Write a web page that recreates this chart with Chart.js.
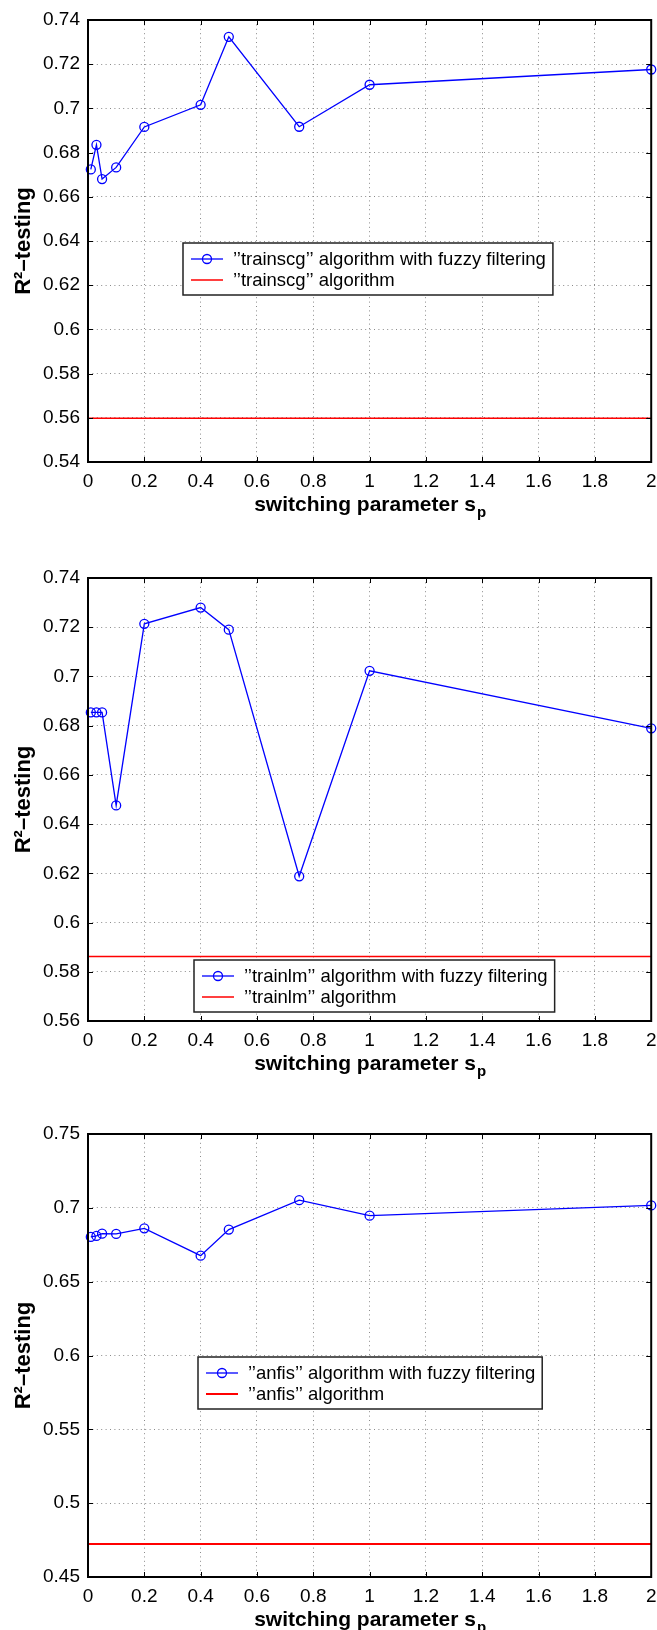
<!DOCTYPE html>
<html>
<head>
<meta charset="utf-8">
<script src="https://cdn.jsdelivr.net/npm/chart.js@4/dist/chart.umd.min.js"></script>
<style>
  body { margin: 0; background: #fff; }
  .panel { position: absolute; left: 0; width: 657px; }
</style>
</head>
<body>
<div class="panel" style="top:0;height:540px"><canvas id="chartTrainscg"></canvas></div>
<div class="panel" style="top:540px;height:550px"><canvas id="chartTrainlm"></canvas></div>
<div class="panel" style="top:1090px;height:540px"><canvas id="chartAnfis"></canvas></div>
<script>
// switching parameter values (same for all three panels)
const spValues = [0.01, 0.03, 0.05, 0.1, 0.2, 0.4, 0.5, 0.75, 1, 2];

// R^2 testing, with fuzzy filtering
const trainscgFuzzy = [0.6724, 0.6835, 0.668, 0.6733, 0.6916, 0.7016, 0.7324, 0.6917, 0.7107, 0.7176];
const trainlmFuzzy = [0.6854, 0.6854, 0.6854, 0.6476, 0.7214, 0.728, 0.719, 0.6188, 0.7023, 0.6789];
const anfisFuzzy = [0.6803, 0.681, 0.6825, 0.6823, 0.6861, 0.6676, 0.6853, 0.7052, 0.6947, 0.7016];

// plain algorithm (flat reference line from sp=0 to sp=2)
const baseX = [0, 2];
const trainscgBase = [0.5598, 0.5598];
const trainlmBase = [0.5862, 0.5862];
const anfisBase = [0.4723, 0.4723];

// tick labels
const xTickValues = [0, 0.2, 0.4, 0.6, 0.8, 1, 1.2, 1.4, 1.6, 1.8, 2];
const yTicksTrainscg = [0.54, 0.56, 0.58, 0.6, 0.62, 0.64, 0.66, 0.68, 0.7, 0.72, 0.74];
const yTicksTrainlm = [0.56, 0.58, 0.6, 0.62, 0.64, 0.66, 0.68, 0.7, 0.72, 0.74];
const yTicksAnfis = [0.45, 0.5, 0.55, 0.6, 0.65, 0.7, 0.75];

const family = '"Liberation Sans", Arial, Helvetica, sans-serif';
Chart.defaults.font.family = family;
Chart.defaults.color = '#000';

function pts(xs, ys) {
    return xs.map((x, i) => ({x: x, y: ys[i]}));
}

function fmt(v) {
    return String(+Number(v).toFixed(2));
}

// box around the axes with inward ticks, like matlab
const frame = {
    id: 'frame',
    afterDatasetsDraw(chart) {
        const {ctx, chartArea: a, scales} = chart;
        ctx.save();
        ctx.strokeStyle = '#000';
        ctx.lineWidth = 1;
        ctx.beginPath();
        scales.x.ticks.forEach(t => {
            const px = Math.round(scales.x.getPixelForValue(t.value)) + 0.5;
            ctx.moveTo(px, a.bottom); ctx.lineTo(px, a.bottom - 5);
            ctx.moveTo(px, a.top); ctx.lineTo(px, a.top + 5);
        });
        scales.y.ticks.forEach(t => {
            const py = Math.round(scales.y.getPixelForValue(t.value)) + 0.5;
            ctx.moveTo(a.left, py); ctx.lineTo(a.left + 5, py);
            ctx.moveTo(a.right, py); ctx.lineTo(a.right - 5, py);
        });
        ctx.stroke();
        ctx.lineWidth = 2;
        ctx.strokeRect(a.left, a.top, a.right - a.left, a.bottom - a.top);
        ctx.restore();
    }
};

// legend box inside the plot
const boxLegend = {
    id: 'boxLegend',
    afterDraw(chart, args, o) {
        const {ctx, chartArea} = chart;
        const x = chartArea.left + o.dx;
        const y = chartArea.top + o.dy;
        ctx.save();
        ctx.font = '18.5px ' + family;
        let w = 0;
        chart.data.datasets.forEach(d => { w = Math.max(w, ctx.measureText(d.label).width); });
        const bw = 50 + w + 7, bh = 52;
        ctx.fillStyle = '#fff';
        ctx.fillRect(x, y, bw, bh);
        ctx.strokeStyle = '#222';
        ctx.lineWidth = 1.5;
        ctx.strokeRect(x, y, bw, bh);
        chart.data.datasets.forEach((d, i) => {
            const cy = y + 16 + i * 21;
            ctx.strokeStyle = d.borderColor;
            ctx.lineWidth = d.borderWidth;
            ctx.beginPath();
            ctx.moveTo(x + 8, cy); ctx.lineTo(x + 40, cy);
            ctx.stroke();
            if (d.pointRadius > 0) {
                ctx.beginPath();
                ctx.arc(x + 24, cy, d.pointRadius, 0, Math.PI * 2);
                ctx.stroke();
            }
            ctx.fillStyle = '#000';
            ctx.textBaseline = 'middle';
            ctx.textAlign = 'left';
            ctx.fillText(d.label, x + 50, cy + 1);
        });
        ctx.restore();
    }
};

// x axis title with subscript
const xTitle = {
    id: 'xTitle',
    afterDraw(chart, args, o) {
        const {ctx, chartArea: a} = chart;
        ctx.save();
        ctx.fillStyle = '#000';
        ctx.textBaseline = 'middle';
        ctx.textAlign = 'left';
        ctx.font = 'bold 21px ' + family;
        const w1 = ctx.measureText(o.text).width;
        ctx.font = 'bold 15px ' + family;
        const w2 = ctx.measureText(o.sub).width;
        const x = (a.left + a.right) / 2 - (w1 + w2) / 2;
        const y = a.bottom + 43;
        ctx.font = 'bold 21px ' + family;
        ctx.fillText(o.text, x, y);
        ctx.font = 'bold 15px ' + family;
        ctx.fillText(o.sub, x + w1 + 1, y + 8);
        ctx.restore();
    }
};

function makeChart(id, name, fuzzy, base, yTicks, top, xAxisH, legendPos, redWidth) {
    new Chart(document.getElementById(id), {
        type: 'line',
        data: {
            datasets: [{
                label: '\u2019\u2019' + name + '\u2019\u2019 algorithm with fuzzy filtering',
                data: pts(spValues, fuzzy),
                borderColor: '#0000ff',
                backgroundColor: 'rgba(0,0,0,0)',
                borderWidth: 1.3,
                pointRadius: 4.5,
                pointBorderWidth: 1.3,
                pointStyle: 'circle',
                clip: false,
                tension: 0
            }, {
                label: '\u2019\u2019' + name + '\u2019\u2019 algorithm',
                data: pts(baseX, base),
                borderColor: '#ff0000',
                borderWidth: redWidth,
                pointRadius: 0,
                tension: 0
            }]
        },
        options: {
            responsive: true,
            maintainAspectRatio: false,
            animation: false,
            layout: {padding: {top: top, right: 5, left: 0, bottom: 0}},
            plugins: {
                legend: {display: false},
                tooltip: {enabled: false},
                boxLegend: legendPos,
                xTitle: {text: 'switching parameter s', sub: 'p'}
            },
            scales: {
                x: {
                    type: 'linear',
                    min: 0,
                    max: 2,
                    afterBuildTicks: s => { s.ticks = xTickValues.map(v => ({value: v})); },
                    afterFit: s => { s.height = xAxisH; s.paddingRight = 0; s.paddingLeft = 0; },
                    ticks: {font: {size: 19}, padding: 8, maxRotation: 0, callback: fmt},
                    grid: {color: '#8a8a8a', drawTicks: false, lineWidth: 1},
                    border: {display: false, dash: [1, 3.4]}
                },
                y: {
                    min: yTicks[0],
                    max: yTicks[yTicks.length - 1],
                    afterBuildTicks: s => { s.ticks = yTicks.map(v => ({value: v})); },
                    afterFit: s => { s.width = 88; },
                    ticks: {font: {size: 19}, padding: 8, callback: fmt},
                    grid: {color: '#8a8a8a', drawTicks: false, lineWidth: 1},
                    border: {display: false, dash: [1, 3.4]},
                    title: {
                        display: true,
                        text: 'R\u00b2\u2013testing',
                        font: {size: 22, weight: 'bold'},
                        padding: {top: 11, bottom: 0}
                    }
                }
            }
        },
        plugins: [frame, boxLegend, xTitle]
    });
}

makeChart('chartTrainscg', 'trainscg', trainscgFuzzy, trainscgBase, yTicksTrainscg, 20, 78, {dx: 95, dy: 223}, 1.5);
makeChart('chartTrainlm', 'trainlm', trainlmFuzzy, trainlmBase, yTicksTrainlm, 38, 69, {dx: 106, dy: 382}, 1.5);
makeChart('chartAnfis', 'anfis', anfisFuzzy, anfisBase, yTicksAnfis, 44, 53, {dx: 110, dy: 223}, 2);
</script>
</body>
</html>
